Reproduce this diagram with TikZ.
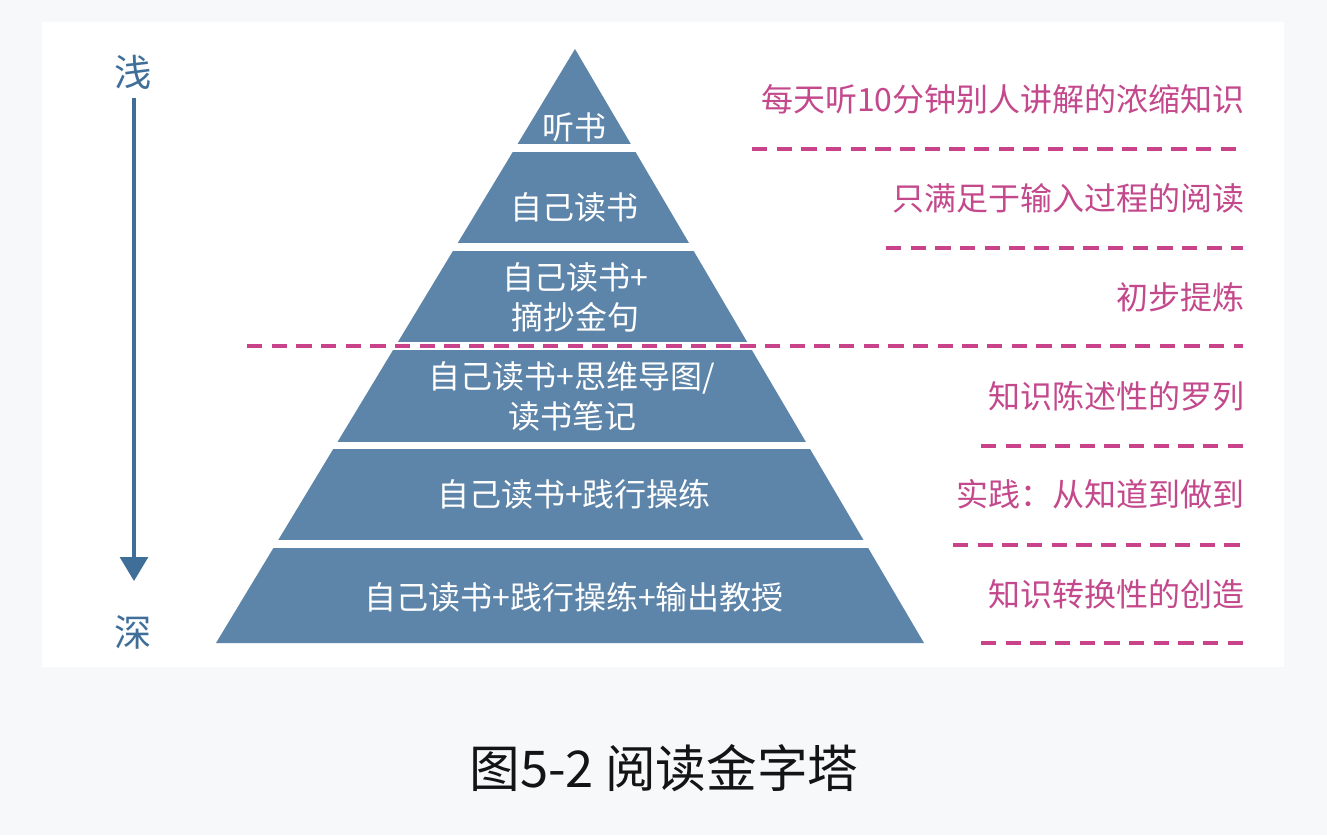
\documentclass[tikz,border=0pt]{standalone}
\usepackage{fontspec}
\setmainfont{Noto Sans CJK SC}
\usetikzlibrary{arrows.meta}
\definecolor{bgc}{HTML}{F7F8FA}
\definecolor{pyr}{HTML}{5D84A9}
\definecolor{arrc}{HTML}{3F6F99}
\definecolor{notec}{HTML}{C4488C}
\definecolor{dashc}{HTML}{C8438A}
\begin{document}
\begin{tikzpicture}[x=0.75pt,y=-0.75pt,
  lvl/.style={text=white,font=\fontsize{24}{30}\selectfont,align=center,inner sep=0pt},
  note/.style={text=notec,font=\fontsize{24}{30}\selectfont,anchor=east,inner sep=0pt},
  sepline/.style={draw=dashc,line width=3pt,dash pattern=on 11.5pt off 7pt},
  depth/.style={text=arrc,font=\fontsize{28}{32}\selectfont,inner sep=0pt}]
\useasboundingbox (0,0) rectangle (1327,835);
\fill[bgc] (0,0) rectangle (1327,835);
\fill[white] (42,22) rectangle (1284,667);
% pyramid
\coordinate (apex) at (575,49);
\coordinate (bl) at (216,643);
\coordinate (br) at (924,643);
\fill[pyr] (apex) -- (bl) -- (br) -- cycle;
\foreach \a/\b in {144/152,243/251,342/350,442/449,540/548}
  \fill[white] (200,\a) rectangle (950,\b);
% level labels
\node[lvl] (l1) at (574,127) {听书};
\node[lvl] (l2) at (574,207) {自己读书};
\node[lvl] (l3) at (575,297) {自己读书+\\摘抄金句};
\node[lvl] (l4) at (572,396) {自己读书+思维导图/\\读书笔记};
\node[lvl] (l5) at (574,494) {自己读书+践行操练};
\node[lvl] (l6) at (574,597) {自己读书+践行操练+输出教授};
% notes
\node[note] (n1) at (1245,99) {每天听10分钟别人讲解的浓缩知识};
\node[note] (n2) at (1245,198) {只满足于输入过程的阅读};
\node[note] (n3) at (1245,297) {初步提炼};
\node[note] (n4) at (1245,396) {知识陈述性的罗列};
\node[note] (n5) at (1245,494) {实践：从知道到做到};
\node[note] (n6) at (1245,594) {知识转换性的创造};
% dashed separators
\draw[sepline] (752,149) -- (1243,149);
\draw[sepline] (886,248) -- (1243,248);
\draw[sepline] (247,346) -- (1243,346);
\draw[sepline] (981,446) -- (1243,446);
\draw[sepline] (953,545) -- (1243,545);
\draw[sepline] (981,643) -- (1243,643);
% depth arrow
\node[depth] (qian) at (133,72) {浅};
\node[depth] (shen) at (133,632) {深};
\coordinate (atop) at (134,98);
\coordinate (atip) at (134,581);
\draw[arrc,line width=2.3pt,-{Triangle[width=21pt,length=18pt]}] (atop) -- (atip);
% caption
\node[font=\fontsize{38}{42}\selectfont,text=black!92,inner sep=0pt] (cap) at (664,768) {图5-2 阅读金字塔};
\end{tikzpicture}
\end{document}
